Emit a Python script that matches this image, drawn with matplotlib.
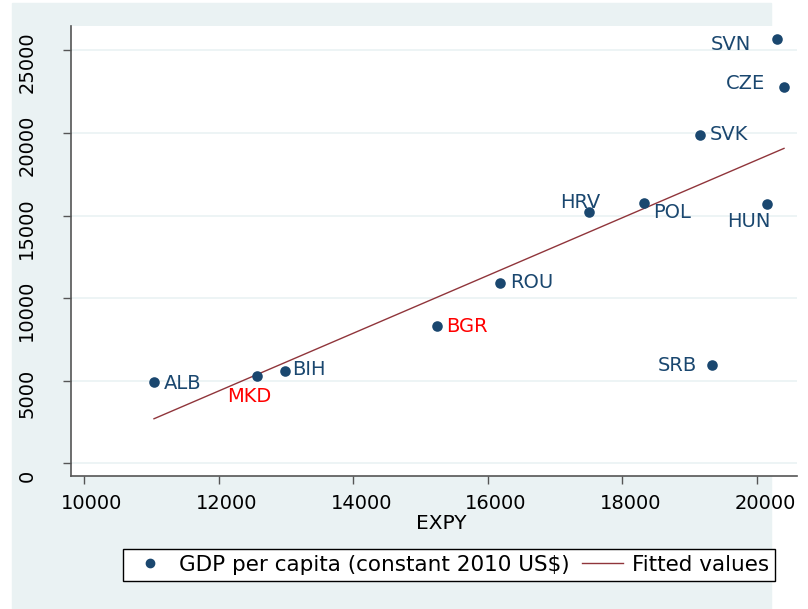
import numpy as np
import matplotlib
matplotlib.use("Agg")
import matplotlib.pyplot as plt
from matplotlib.patches import Rectangle
from matplotlib.lines import Line2D
from matplotlib.transforms import ScaledTranslation

# data
countries = ["ALB", "MKD", "BIH", "BGR", "ROU", "HRV", "POL", "SVK", "HUN", "SRB", "SVN", "CZE"]
expy = [11040, 12571, 12987, 15245, 16181, 17504, 18321, 19153, 20149, 19331, 20297, 20401]
gdp = [4933, 5297, 5600, 8323, 10926, 15224, 15769, 19885, 15708, 5962, 25696, 22790]
highlight = ["MKD", "BGR"]

# label placement (pixel offset from dot, horizontal alignment)
label_pos = {
    "ALB": (10, -1, "left"), "MKD": (-8, -21, "center"), "BIH": (7, 1, "left"),
    "BGR": (9, 0, "left"), "ROU": (10, 0, "left"), "HRV": (-9, 9, "center"),
    "POL": (9, -10, "left"), "SVK": (10, 0, "left"), "HUN": (-18, -17, "center"),
    "SRB": (-15, 0, "right"), "SVN": (-26, -5, "right"), "CZE": (-19, 4, "right"),
}

navy = "#1a476f"
maroon = "#90353b"
bg = "#eaf2f3"
plt.rcParams["font.family"] = "DejaVu Sans"

fig = plt.figure(figsize=(8.08, 6.09), dpi=100, facecolor="white")
fig.patches.append(Rectangle((12 / 808, 0), (771 - 12) / 808, (609 - 3) / 609,
                             transform=fig.transFigure, color=bg, zorder=-10))
ax = fig.add_axes([71 / 808, 1 - 476 / 609, 726 / 808, 450 / 609])
ax.set_facecolor("white")

x = np.array(expy, dtype=float)
y = np.array(gdp, dtype=float)
b, a = np.polyfit(x, y, 1)
xf = np.array([x.min(), x.max()])

ax.scatter(x, y, s=58, color=navy, zorder=3, linewidths=0)
ax.plot(xf, a + b * xf, color=maroon, lw=1.0, zorder=2)

for c, xi, yi in zip(countries, x, y):
    dx, dy, ha = label_pos[c]
    ax.annotate(c, (xi, yi), xytext=(dx, dy), textcoords="offset pixels",
                ha=ha, va="center", fontsize=14,
                color="red" if c in highlight else navy)

ax.set_xlim(9807, 20594)
ax.set_ylim(-757, 26483)
ax.set_xticks(range(10000, 20001, 2000))
ax.set_yticks(range(0, 25001, 5000))
ax.grid(axis="y", color=bg, lw=1.2)
ax.set_axisbelow(True)
for s in ["top", "right"]:
    ax.spines[s].set_visible(False)
for s in ["left", "bottom"]:
    ax.spines[s].set_color("#555555")
    ax.spines[s].set_linewidth(1.2)
ax.tick_params(axis="both", length=6, width=1, color="#555555", labelsize=14)
ax.tick_params(axis="x", pad=7)
ax.tick_params(axis="y", pad=19)
for lab in ax.get_yticklabels():
    lab.set_rotation(90)
    lab.set_va("center")
    lab.set_transform(lab.get_transform() + ScaledTranslation(0, -12 / 100, fig.dpi_scale_trans))
for lab in ax.get_xticklabels():
    lab.set_transform(lab.get_transform() + ScaledTranslation(8 / 100, 0, fig.dpi_scale_trans))

ax.set_xlabel("EXPY", fontsize=14.5, labelpad=1)
ax.xaxis.set_label_coords((441 - 71) / 726, -0.085)

handles = [
    Line2D([], [], marker="o", ls="", color=navy, markersize=6),
    Line2D([], [], color=maroon, lw=1.0),
]
leg = fig.legend(handles, ["GDP per capita (constant 2010 US$)", "Fitted values"],
                 loc="center", bbox_to_anchor=(449 / 808, 1 - 565 / 609), ncol=2,
                 fontsize=15.5, frameon=True, fancybox=False, edgecolor="black",
                 framealpha=1, handlelength=1.9, handletextpad=0.4, columnspacing=0.6,
                 borderpad=0.3, borderaxespad=0)
leg.get_frame().set_linewidth(1.0)

fig.savefig("out.png", dpi=100, facecolor="white")
